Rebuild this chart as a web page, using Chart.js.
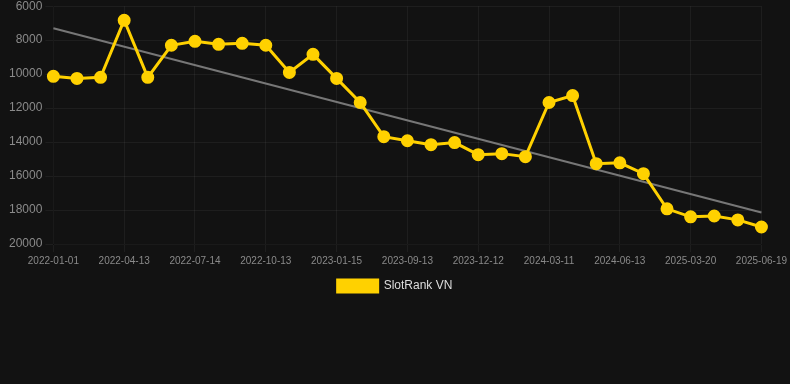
<!DOCTYPE html>
<html>
<head>
<meta charset="utf-8">
<script src="https://cdn.jsdelivr.net/npm/chart.js@4/dist/chart.umd.min.js"></script>
<style>
  html, body { margin: 0; padding: 0; background: #121212; overflow: hidden; }
  #wrap { width: 790px; height: 306px; margin-top: -4px; }
</style>
</head>
<body>
<div id="wrap"><canvas id="myChart"></canvas></div>
<script>
// dates of each rank reading
const dates = [
  "2022-01-01", "2022-02-09", "2022-03-12", "2022-04-13", "2022-05-12", "2022-06-13",
  "2022-07-14", "2022-08-12", "2022-09-13", "2022-10-13", "2022-11-14", "2022-12-13",
  "2023-01-15", "2023-06-13", "2023-07-14", "2023-09-13", "2023-10-12", "2023-11-13",
  "2023-12-12", "2024-01-12", "2024-02-11", "2024-03-11", "2024-04-12", "2024-05-13",
  "2024-06-13", "2025-01-16", "2025-02-17", "2025-03-20", "2025-04-19", "2025-05-20",
  "2025-06-19"
];
const slotRank = [
  10130, 10250, 10190, 6830, 10190, 8300,
  8070, 8245, 8185, 8300, 9900, 8835,
  10250, 11670, 13680, 13920, 14150, 14030,
  14740, 14680, 14860, 11670, 11260, 15270,
  15220, 15860, 17930, 18400, 18350, 18580,
  19000
];
// trend line end points
const trendStart = 7300;
const trendEnd = 18150;
const yTicks = [6000, 8000, 10000, 12000, 14000, 16000, 18000, 20000];

const yellow = "#FFD100";
const gridColor = "rgba(255,255,255,0.05)";

new Chart(document.getElementById("myChart"), {
  type: "line",
  data: {
    labels: dates,
    datasets: [
      {
        label: "SlotRank VN",
        data: slotRank,
        borderColor: yellow,
        backgroundColor: yellow,
        borderWidth: 3,
        pointRadius: 5,
        pointHoverRadius: 5,
        pointBackgroundColor: yellow,
        pointBorderColor: yellow,
        tension: 0
      },
      {
        label: "trend",
        data: [
          { x: dates[0], y: trendStart },
          { x: dates[dates.length - 1], y: trendEnd }
        ],
        borderColor: "#777777",
        borderWidth: 2,
        pointRadius: 0,
        tension: 0
      }
    ]
  },
  options: {
    responsive: true,
    maintainAspectRatio: false,
    animation: false,
    plugins: {
      legend: {
        position: "bottom",
        labels: {
          color: "#dddddd",
          font: { family: "Liberation Sans, Arial, sans-serif", size: 12 },
          boxWidth: 40,
          filter: (item) => item.datasetIndex === 0
        }
      },
      tooltip: { enabled: false }
    },
    scales: {
      x: {
        grid: { color: (ctx) => (ctx.index % 3 === 0 ? gridColor : "rgba(0,0,0,0)") },
        ticks: {
          color: "#8a8a8a",
          font: { family: "Liberation Sans, Arial, sans-serif", size: 10 },
          autoSkip: false,
          maxRotation: 0,
          callback: function (v, i) { return i % 3 === 0 ? this.getLabelForValue(v) : ""; }
        }
      },
      y: {
        reverse: true,
        min: yTicks[0],
        max: yTicks[yTicks.length - 1],
        grid: { color: gridColor },
        afterBuildTicks: (axis) => { axis.ticks = yTicks.map(v => ({ value: v })); },
        afterFit: (axis) => { axis.width += 6; },
        ticks: {
          color: "#8a8a8a",
          font: { family: "Liberation Sans, Arial, sans-serif", size: 12 },
          callback: (v) => String(v)
        }
      }
    }
  }
});
</script>
</body>
</html>
